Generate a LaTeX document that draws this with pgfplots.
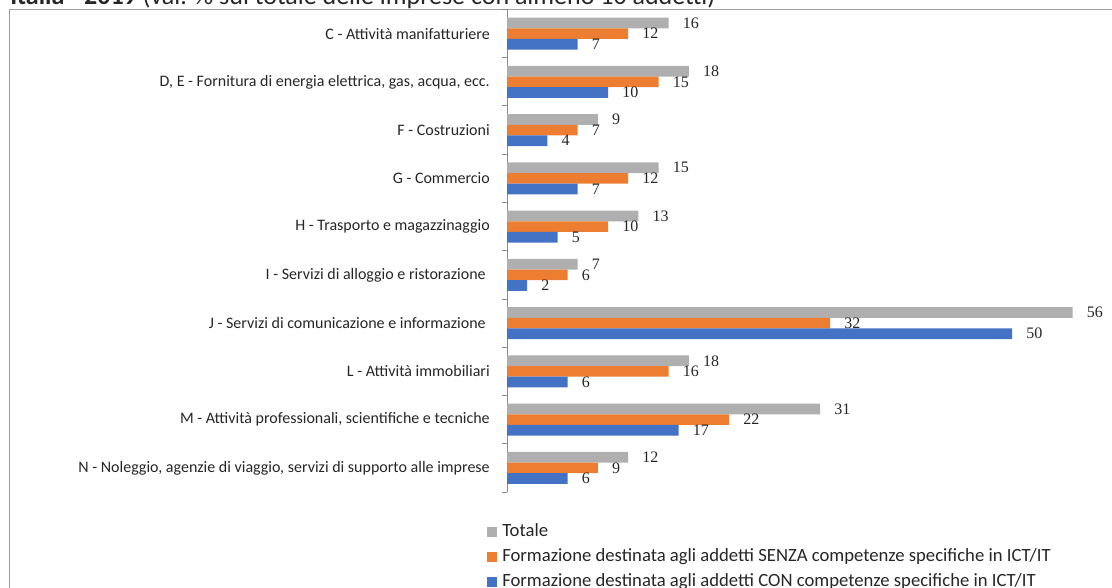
\documentclass[border=0pt]{standalone}
\usepackage{fontspec}
\setmainfont{Carlito}
\newfontfamily\tnr{Liberation Serif}
\usepackage{pgfplots}
\usepackage{pgfplotstable}
\pgfplotsset{compat=1.18}
\definecolor{totgray}{HTML}{AFAFAF}
\definecolor{senzaor}{HTML}{ED7D31}
\definecolor{conblu}{HTML}{4472C4}
\definecolor{framegray}{HTML}{A0A0A0}
\definecolor{axgray}{HTML}{8C8C8C}

% cat 0 = N ... cat 9 = C
\pgfplotstableread{
cat tot senza con
0 12 9 6
1 31 22 17
2 18 16 6
3 56 32 50
4 7 6 2
5 13 10 5
6 15 12 7
7 9 7 4
8 18 15 10
9 16 12 7
}\settori

\begin{document}
\begin{tikzpicture}
\path[use as bounding box] (0,0) rectangle (834pt,-441pt);
\draw[framegray, line width=0.75pt] (6.75pt,-460pt) -- (6.75pt,-7.5pt) -- (850pt,-7.5pt);
\node[anchor=base west, inner sep=0pt, font=\fontsize{19.5}{22}\selectfont, text=black!85] at (7.5pt,-3.75pt)
  {\textbf{Italia - 2019} (val. \% sul totale delle imprese con almeno 10 addetti)};
\begin{axis}[
  at={(380.25pt,-369pt)}, anchor=south west,
  scale only axis, width=439.35pt, height=361.875pt,
  xbar, bar width=7.95pt,
  xmin=0, xmax=58, ymin=-0.5, ymax=9.5,
  hide x axis,
  axis y line*=left,
  y axis line style={axgray, line width=0.75pt},
  ytick={0,...,9},
  yticklabels={
    {N - Noleggio, agenzie di viaggio, servizi di supporto alle imprese},
    {M - Attività professionali, scientifiche e tecniche},
    {L - Attività immobiliari},
    {J - Servizi di comunicazione e informazione\hspace*{3pt}},
    {I - Servizi di alloggio e ristorazione\hspace*{3pt}},
    {H - Trasporto e magazzinaggio},
    {G - Commercio},
    {F - Costruzioni},
    {D, E - Fornitura di energia elettrica, gas, acqua, ecc.},
    {C - Attività manifatturiere}},
  major tick length=0pt,
  minor ytick={-0.5,0.5,...,9.5},
  minor tick length=3.75pt,
  tick align=outside,
  ytick style={axgray, line width=0.75pt},
  yticklabel style={font=\fontsize{12}{14}\selectfont, text=black!85, inner sep=0pt, xshift=-12.75pt},
  nodes near coords,
  nodes near coords style={font=\tnr\fontsize{12}{14}\selectfont, anchor=west, inner sep=0pt, xshift=10.5pt, text=black!85,
    /pgf/number format/assume math mode=true},
  legend style={at={(-0.0341,-0.062)}, anchor=north west, draw=none, fill=none, inner sep=0pt,
    row sep=4.75pt, font=\fontsize{14}{16}\selectfont, text=black!85,
    nodes={inner sep=0pt, text height=10.5pt, text depth=3.5pt}},
  legend image code/.code={\fill[#1] (0pt,-3.75pt) rectangle (7.5pt,3.75pt); \path (11.25pt,0pt);},
  legend cell align=left,
]
\addplot[fill=totgray, draw=none, bar shift=7.95pt] table[x=tot, y=cat] {\settori};
\addplot[fill=senzaor, draw=none, bar shift=0pt] table[x=senza, y=cat] {\settori};
\addplot[fill=conblu, draw=none, bar shift=-7.95pt] table[x=con, y=cat] {\settori};
\legend{Totale,
  Formazione destinata agli addetti SENZA competenze specifiche in ICT/IT,
  Formazione destinata agli addetti CON competenze specifiche in ICT/IT}
\end{axis}
\end{tikzpicture}
\end{document}
